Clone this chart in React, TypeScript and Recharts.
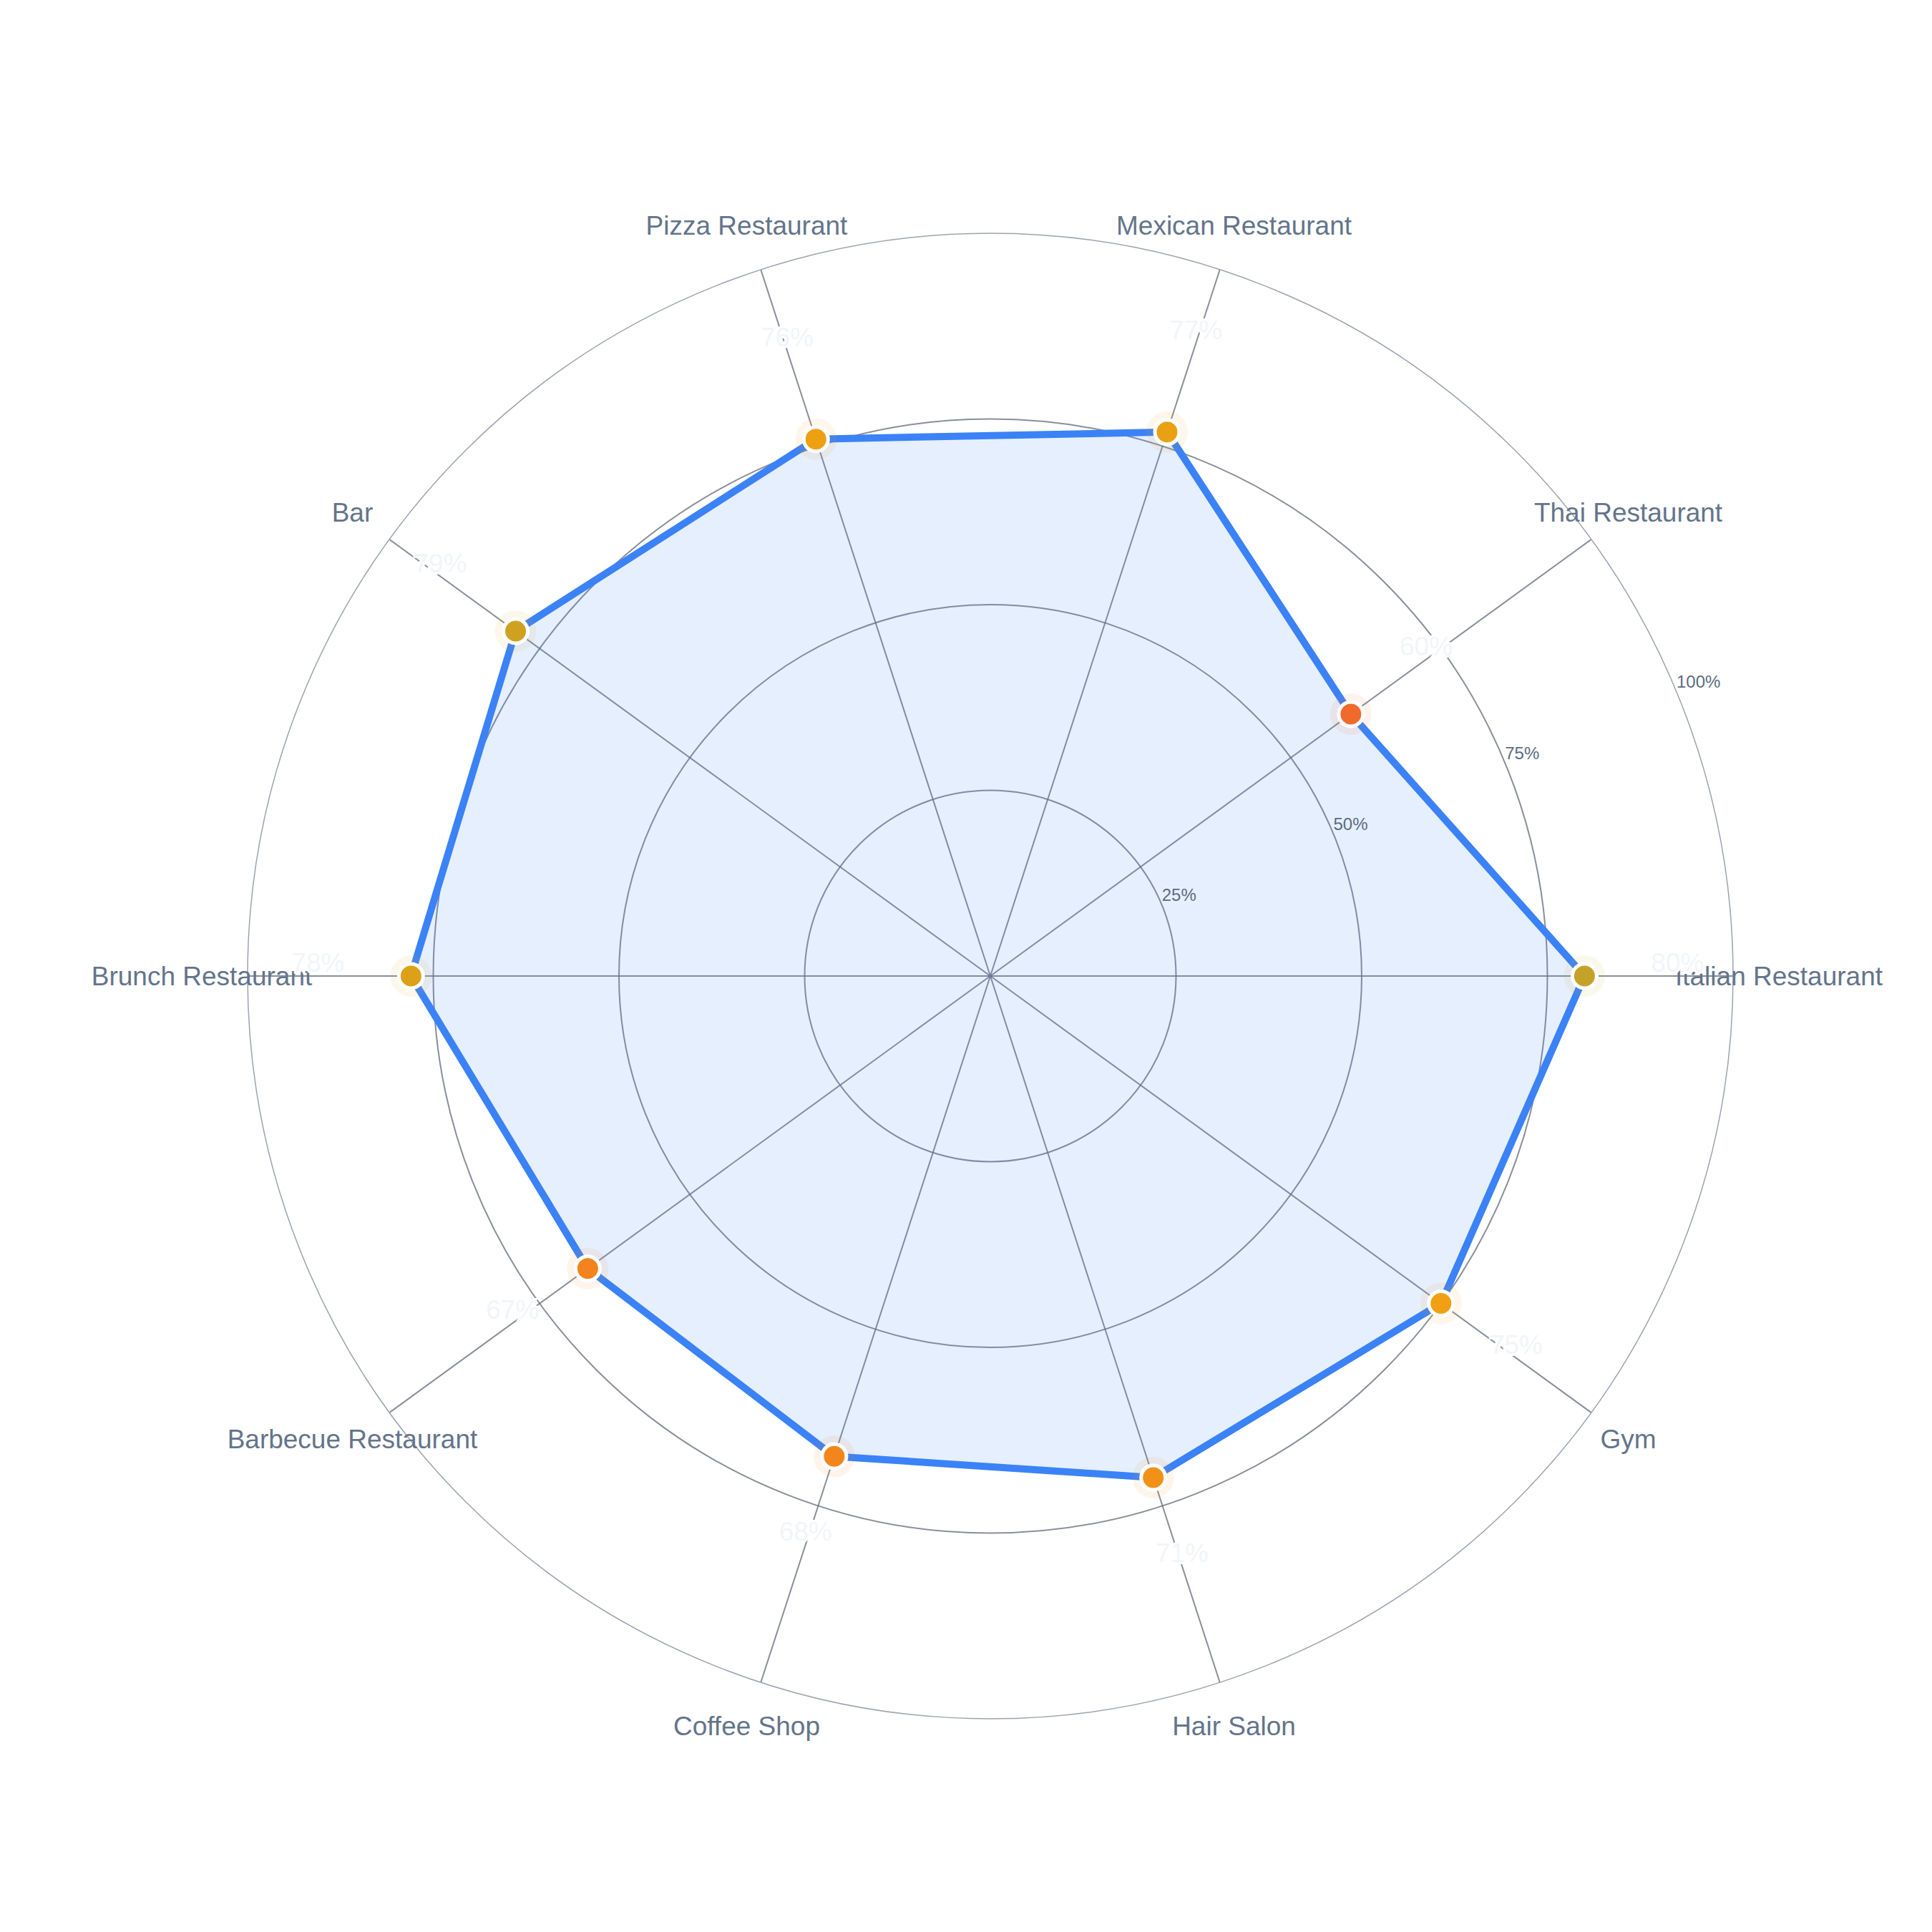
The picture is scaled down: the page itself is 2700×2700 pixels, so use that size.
import {
  PolarAngleAxis,
  PolarGrid,
  PolarRadiusAxis,
  Radar,
  RadarChart,
} from "recharts";

const CATEGORIES = [
  "Italian Restaurant",
  "Thai Restaurant",
  "Mexican Restaurant",
  "Pizza Restaurant",
  "Bar",
  "Brunch Restaurant",
  "Barbecue Restaurant",
  "Coffee Shop",
  "Hair Salon",
  "Gym",
];
const SHARE = [80, 60, 77, 76, 79, 78, 67, 68, 71, 75];
const RADIUS_TICKS = [0, 25, 50, 75, 100];

const data = CATEGORIES.map((name, i) => ({ name, value: SHARE[i] }));

const W = 2684;
const H = 2684;
const CX = 1376;
const CY = 1356;
const OUTER = 1038;
const LABEL_R = 1102;
const FONT = "'Liberation Sans', Arial, Helvetica, sans-serif";

// value -> dot colour (red-orange for low, olive-gold for high)
const STOPS: [number, number[]][] = [
  [60, [239, 106, 44]],
  [68, [242, 134, 28]],
  [75, [240, 160, 18]],
  [77, [233, 160, 18]],
  [80, [196, 162, 39]],
];

function dotColor(v: number) {
  if (v <= STOPS[0][0]) return `rgb(${STOPS[0][1].join(",")})`;
  for (let i = 1; i < STOPS.length; i++) {
    const [v1, c1] = STOPS[i];
    const [v0, c0] = STOPS[i - 1];
    if (v <= v1) {
      const t = (v - v0) / (v1 - v0);
      const c = c0.map((a, k) => Math.round(a + (c1[k] - a) * t));
      return `rgb(${c.join(",")})`;
    }
  }
  return `rgb(${STOPS[STOPS.length - 1][1].join(",")})`;
}

function renderDot(props: any) {
  const { cx, cy, index } = props;
  const value = props.payload?.value ?? props.value;
  const color = dotColor(value);
  const dx = cx - CX;
  const dy = cy - CY;
  const r = Math.hypot(dx, dy) || 1;
  const k = (r + 130) / r;
  return (
    <g key={`dot-${index}`}>
      <circle cx={cx} cy={cy} r={29} fill={color} fillOpacity={0.09} />
      <circle cx={cx} cy={cy} r={17} fill={color} stroke="#ffffff" strokeWidth={5} />
      <text
        x={CX + dx * k}
        y={CY + dy * k - 6}
        textAnchor="middle"
        fontSize={37}
        fontFamily={FONT}
        fill="#f1f5f9"
        stroke="#ffffff"
        strokeWidth={6}
        paintOrder="stroke"
      >
        {value}%
      </text>
    </g>
  );
}

// recharts offsets the angle ticks of a counter-clockwise full circle, so
// the category labels are placed from their index (same spacing as the radar)
function renderAngleTick(props: any) {
  const { payload } = props;
  const idx = CATEGORIES.indexOf(payload.value);
  const a = ((360 * idx) / CATEGORIES.length) * (Math.PI / 180);
  return (
    <text
      x={CX + LABEL_R * Math.cos(a)}
      y={CY - LABEL_R * Math.sin(a)}
      textAnchor="middle"
      dominantBaseline="central"
      fontSize={37}
      fontFamily={FONT}
      fill="#64748b"
    >
      {payload.value}
    </text>
  );
}

function renderRadiusTick(props: any) {
  const { x, y, payload } = props;
  if (!payload || payload.value === 0) return <g />;
  return (
    <text
      x={x}
      y={y - 14}
      textAnchor="start"
      dominantBaseline="central"
      fontSize={24}
      fontFamily={FONT}
      fill="#5b6b80"
    >
      {payload.value}%
    </text>
  );
}

export default function App() {
  const ringRadii = RADIUS_TICKS.filter((v) => v > 0 && v < 100).map(
    (v) => (OUTER * v) / 100,
  );
  return (
    <div style={{ width: W, height: H, background: "#ffffff" }}>
      <RadarChart
        width={W}
        height={H}
        data={data}
        cx={CX}
        cy={CY}
        outerRadius={OUTER}
        startAngle={-36}
        endAngle={324}
      >
        <PolarGrid
          gridType="circle"
          polarRadius={ringRadii}
          stroke="#6b7280"
          strokeOpacity={0.8}
          strokeWidth={2}
        />
        <PolarAngleAxis
          dataKey="name"
          tick={renderAngleTick}
          tickLine={false}
          tickSize={64}
          axisLine={{ stroke: "#9ca3af", strokeWidth: 1.5 }}
          axisLineType="circle"
        />
        <PolarRadiusAxis
          angle={22.5}
          domain={[0, 100]}
          ticks={RADIUS_TICKS as any}
          tickCount={5}
          axisLine={false}
          tickLine={false}
          tick={renderRadiusTick}
        />
        <Radar
          dataKey="value"
          stroke="#3b82f6"
          strokeWidth={10}
          fill="#3b82f6"
          fillOpacity={0.13}
          dot={renderDot}
          activeDot={false}
          isAnimationActive={false}
        />
      </RadarChart>
    </div>
  );
}
